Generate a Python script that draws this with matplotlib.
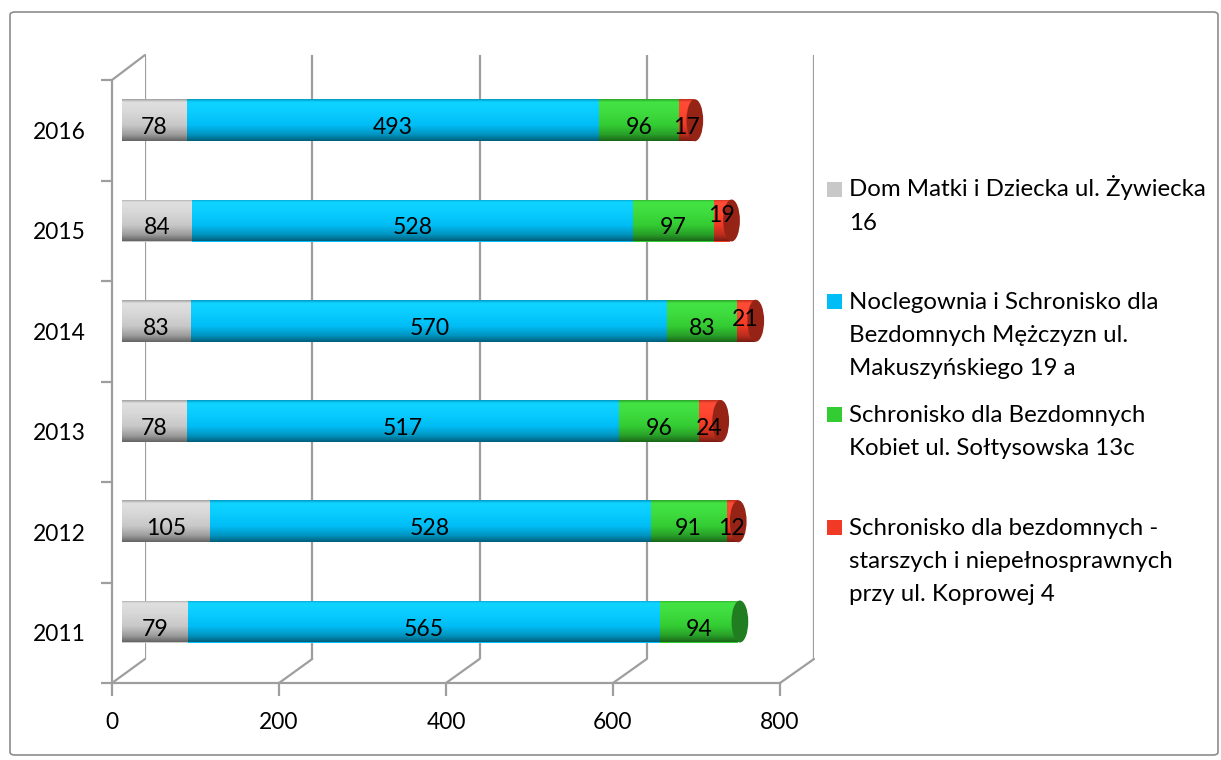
import matplotlib
matplotlib.use('Agg')
import matplotlib.pyplot as plt
import numpy as np
from matplotlib.patches import Rectangle, Ellipse, FancyBboxPatch, ConnectionPatch
from matplotlib.colors import LinearSegmentedColormap, to_rgb
from matplotlib.transforms import offset_copy

# ---------------- data ----------------
years = ['2011', '2012', '2013', '2014', '2015', '2016']
series_names = [
    'Dom Matki i Dziecka ul. Żywiecka\n16',
    'Noclegownia i Schronisko dla\nBezdomnych Mężczyzn ul.\nMakuszyńskiego 19 a',
    'Schronisko dla Bezdomnych\nKobiet ul. Sołtysowska 13c',
    'Schronisko dla bezdomnych -\nstarszych i niepełnosprawnych\nprzy ul. Koprowej 4',
]
dom_matki = [79, 105, 78, 83, 84, 78]
noclegownia = [565, 528, 517, 570, 528, 493]
kobiety = [94, 91, 96, 83, 97, 96]
starsi = [0, 12, 24, 21, 19, 17]
x_ticks = [0, 200, 400, 600, 800]

series_values = [dom_matki, noclegownia, kobiety, starsi]
colors = ['#C8C8C8', '#00BDF5', '#33CC33', '#F03A25']

# ---------------- figure ----------------
W, H = 1221, 760
fig = plt.figure(figsize=(W / 100, H / 100), dpi=100)
plt.rcParams['font.family'] = ['Lato', 'DejaVu Sans']
renderer = fig.canvas.get_renderer()


def fit_size(sample, target_px):
    t = fig.text(0, 0, sample, fontsize=10)
    w = t.get_window_extent(renderer).width
    t.remove()
    return 10 * target_px / w


legend_fs = fit_size('Dom Matki i Dziecka ul. Żywiecka', 357)
axis_fs = fit_size('2016', 53)
value_fs = fit_size('493', 40)


def fx(px):
    return px / W


def fy(py):
    return 1 - py / H


# outer chart border
fig.add_artist(FancyBboxPatch((fx(10), fy(755)), fx(1208), (755 - 12) / H,
                              boxstyle='round,pad=0,rounding_size=0.004',
                              transform=fig.transFigure, fill=False,
                              edgecolor='#8C8C8C', linewidth=1.2))

frame_c = '#9E9E9E'
frame_lw = 1.6

# back plane (grid lines)
axb = fig.add_axes([fx(145), fy(659), fx(814 - 145), (659 - 55) / H], zorder=0)
axb.set_xlim(0, 800)
axb.set_ylim(0, 1)
axb.set_xticks(x_ticks)
axb.set_yticks([])
axb.tick_params(axis='x', length=0, labelbottom=False)
axb.grid(axis='x', color=frame_c, linewidth=frame_lw)
for s in axb.spines.values():
    s.set_visible(False)
axb.patch.set_alpha(0)

# front plane (axes lines, ticks and labels)
axf = fig.add_axes([fx(112), fy(683), fx(780 - 112), (683 - 80) / H], zorder=1)
axf.set_xlim(0, 800)
axf.set_ylim(-0.5, len(years) - 0.5)
axf.set_xticks(x_ticks)
axf.set_xticklabels([str(v) for v in x_ticks], fontsize=axis_fs)
axf.set_yticks(np.arange(len(years) + 1) - 0.5)
axf.set_yticklabels([])
axf.set_yticks(np.arange(len(years)), minor=True)
axf.set_yticklabels(years, minor=True, fontsize=axis_fs)
axf.tick_params(axis='x', direction='out', length=9, width=frame_lw, color=frame_c, pad=12)
axf.tick_params(axis='y', which='major', direction='out', length=8, width=frame_lw, color=frame_c)
axf.tick_params(axis='y', which='minor', length=0, pad=19)
for k in ('top', 'right'):
    axf.spines[k].set_visible(False)
for k in ('left', 'bottom'):
    axf.spines[k].set_color(frame_c)
    axf.spines[k].set_linewidth(frame_lw)
axf.patch.set_alpha(0)

# depth connectors
for v in x_ticks:
    fig.add_artist(ConnectionPatch(xyA=(v, -0.5), coordsA=axf.transData,
                                   xyB=(v, 0), coordsB=axb.transData,
                                   color=frame_c, linewidth=frame_lw))
fig.add_artist(ConnectionPatch(xyA=(0, len(years) - 0.5), coordsA=axf.transData,
                               xyB=(0, 1), coordsB=axb.transData,
                               color=frame_c, linewidth=frame_lw))

# bar plane
y_top_px, y_bot_px = 60, 700
c0_px, step_px = 621.5, 100.25
ax = fig.add_axes([fx(122), fy(y_bot_px), fx(668), (y_bot_px - y_top_px) / H], zorder=2)
ax.axis('off')

bar_h = 42 / step_px
ypos = np.arange(len(years))
grad = np.linspace(0, 1, 128).reshape(-1, 1)


def shade_cmap(c):
    r = np.array(to_rgb(c))
    stops = [(0.0, tuple(np.clip(r * 0.80, 0, 1))),
             (0.07, tuple(np.clip(r * 1.04 + 0.06, 0, 1))),
             (0.30, tuple(np.clip(r * 1.03 + 0.04, 0, 1))),
             (0.62, tuple(r)),
             (0.85, tuple(r * 0.78)),
             (1.0, tuple(r * 0.50))]
    return LinearSegmentedColormap.from_list('s', stops)


left = np.zeros(len(years))
for vals, col in zip(series_values, colors):
    vals = np.array(vals, dtype=float)
    bars = ax.barh(ypos, vals, left=left, height=bar_h, color=col, linewidth=0, zorder=2)
    cmap = shade_cmap(col)
    for p in bars:
        x0, y0, w, h = p.get_x(), p.get_y(), p.get_width(), p.get_height()
        if w <= 0:
            continue
        im = ax.imshow(grad, cmap=cmap, extent=(x0, x0 + w, y0, y0 + h),
                       aspect='auto', zorder=3, interpolation='bilinear')
        im.set_clip_path(p)
    left = left + vals

# right end caps
totals = np.sum(np.array(series_values), axis=0)
cap_w = 20
for i in range(len(years)):
    last = max(k for k in range(len(series_values)) if series_values[k][i] > 0)
    dark = tuple(np.array(to_rgb(colors[last])) * 0.62)
    ax.add_patch(Ellipse((totals[i] + 2, ypos[i]), cap_w, bar_h, facecolor=dark,
                         edgecolor='none', zorder=4))

# data labels (Excel lifted two crowded labels)
lifted = {(3, 4): 13, (3, 3): 9}
left = np.zeros(len(years))
for k, vals in enumerate(series_values):
    for i, v in enumerate(vals):
        if v > 0:
            tr = offset_copy(ax.transData, fig, x=0, y=-14 + lifted.get((k, i), 0), units='dots')
            ax.text(left[i] + v / 2, ypos[i], str(v), transform=tr,
                    ha='center', va='baseline', fontsize=value_fs, color='black', zorder=5)
    left = left + np.array(vals)

ax.set_xlim(0, 800)
ax.set_ylim((c0_px - y_bot_px) / step_px, (c0_px - y_top_px) / step_px)

# legend (Excel style, fixed slots)
slot0, slot_step, line_step = 189, 112.7, 33
for k, (name, col) in enumerate(zip(series_names, colors)):
    cy = slot0 + k * slot_step
    fig.add_artist(Rectangle((fx(827), fy(cy + 7.5)), fx(15), 15 / H,
                             transform=fig.transFigure, facecolor=col, edgecolor='none'))
    for j, line in enumerate(name.split('\n')):
        fig.text(fx(849), fy(cy + 7.5 + j * line_step), line, fontsize=legend_fs,
                 ha='left', va='baseline', color='black')

fig.savefig('out.png', dpi=100, facecolor='white')
